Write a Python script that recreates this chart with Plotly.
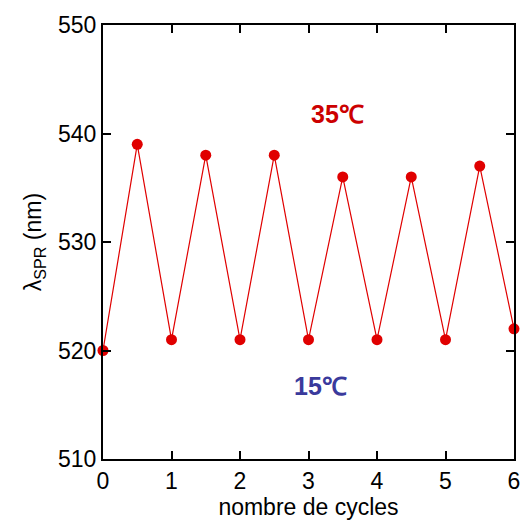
import plotly.graph_objects as go

cycles = [0, 0.5, 1, 1.5, 2, 2.5, 3, 3.5, 4, 4.5, 5, 5.5, 6]
lambda_spr = [520, 539, 521, 538, 521, 538, 521, 536, 521, 536, 521, 537, 522]
x_ticks = [0, 1, 2, 3, 4, 5, 6]
y_ticks = [510, 520, 530, 540, 550]

FONT = "Liberation Sans, Arial"

fig = go.Figure()
fig.add_trace(go.Scatter(
    x=cycles, y=lambda_spr, mode="lines+markers",
    line=dict(color="#e00000", width=1.2),
    marker=dict(color="#e00000", size=11),
    cliponaxis=False, showlegend=False,
))

fig.add_annotation(x=3.42, y=541.8, text="<b>35℃</b>", showarrow=False,
                   font=dict(family=FONT, size=25, color="#cc0000"))
fig.add_annotation(x=3.17, y=516.7, text="<b>15℃</b>", showarrow=False,
                   font=dict(family=FONT, size=25, color="#3a3a9c"))

axis_common = dict(
    showline=True, linecolor="black", linewidth=2, mirror="ticks",
    ticks="inside", ticklen=8, tickwidth=2, tickcolor="black",
    showgrid=False, zeroline=False, automargin=False,
    ticklabeloverflow="allow",
    tickfont=dict(family=FONT, size=23, color="black"),
)

fig.update_xaxes(range=[0, 6], tickvals=x_ticks,
                 title=dict(text="nombre de cycles", standoff=5,
                            font=dict(family=FONT, size=23, color="black")),
                 **axis_common)
fig.update_yaxes(range=[510, 550], tickvals=y_ticks,
                 title=dict(text="λ<sub>SPR</sub> (nm)", standoff=10,
                            font=dict(family=FONT, size=23, color="black")),
                 **axis_common)

fig.update_layout(
    width=520, height=520,
    margin=dict(l=103, r=6, t=25, b=61),
    plot_bgcolor="white", paper_bgcolor="white",
)

fig.write_html(
    "out.html",
    config={"displayModeBar": False},
    post_script="document.body.style.margin='0';document.body.style.overflow='hidden';",
)
